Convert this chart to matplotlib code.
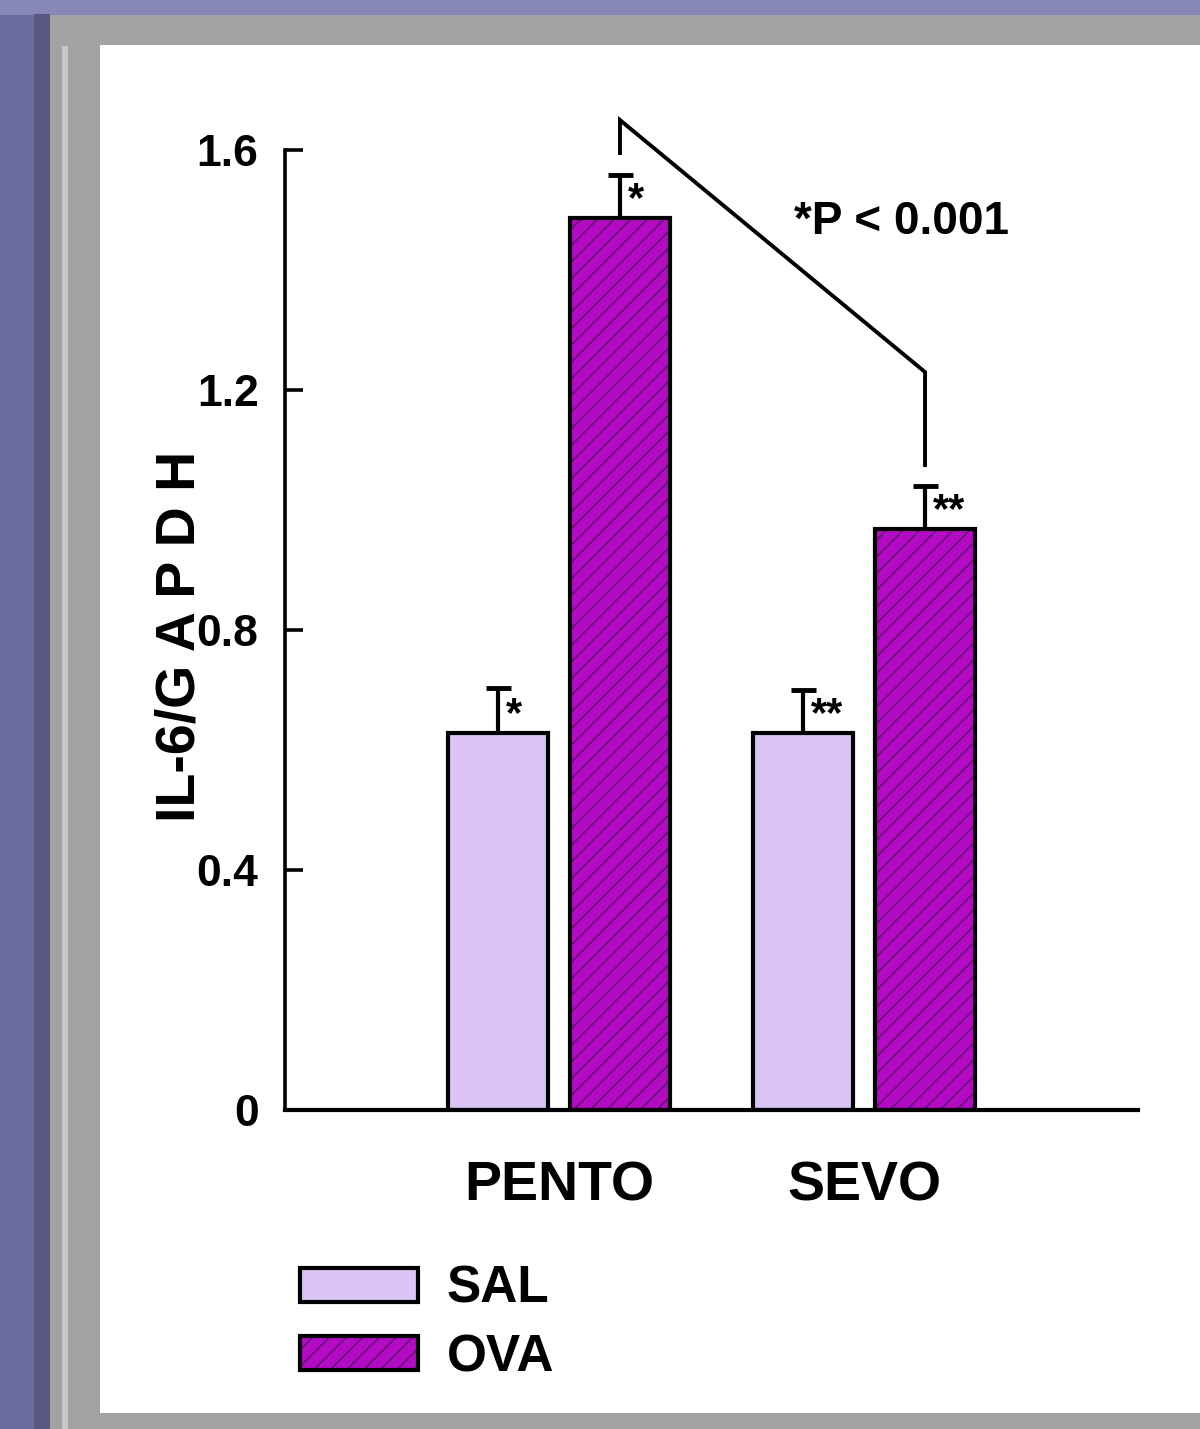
import matplotlib
matplotlib.use('Agg')
import matplotlib.pyplot as plt
from matplotlib.patches import Rectangle
from matplotlib.legend_handler import HandlerTuple
import numpy as np

# ---------------- data ----------------
categories = ['PENTO', 'SEVO']
series_names = ['SAL', 'OVA']
sal_means = [0.628, 0.628]
sal_err = [0.075, 0.072]
ova_means = [1.487, 0.968]
ova_err = [0.071, 0.072]
sal_marks = ['*', '**']
ova_marks = ['*', '**']
yticks = [0, 0.4, 0.8, 1.2, 1.6]
ytick_labels = ['0', '0.4', '0.8', '1.2', '1.6']
bracket_y = [1.595, 1.65, 1.23, 1.075]   # left bottom, left top, right top, right bottom
p_text = '*P < 0.001'
ylabel = 'IL-6/G A P D H'

# ---------------- style ----------------
FONT = 'Liberation Sans'
SAL_COLOR = '#DCC4F8'
OVA_COLOR = '#B30AC4'
HATCH_COLOR = '#66107A'
plt.rcParams['hatch.linewidth'] = 1.1

fig = plt.figure(figsize=(12, 14.29), dpi=100)
fig.patch.set_facecolor('#6C6CA2')

# decorative frame (figure fraction coordinates)
fig.patches.append(Rectangle((0, 0.9895), 1, 0.0105, transform=fig.transFigure,
                             facecolor='#8888B8', edgecolor='none', zorder=-5))
fig.patches.append(Rectangle((0.028, 0), 0.014, 0.99, transform=fig.transFigure,
                             facecolor='#58587F', edgecolor='none', zorder=-5))
fig.patches.append(Rectangle((0.042, 0), 0.958, 0.9895, transform=fig.transFigure,
                             facecolor='#A2A2A2', edgecolor='none', zorder=-4))
fig.patches.append(Rectangle((0.052, 0), 0.005, 0.968, transform=fig.transFigure,
                             facecolor='#C8C8C8', edgecolor='none', zorder=-3))
fig.patches.append(Rectangle((0.0833, 0.0112), 0.9167, 0.9573, transform=fig.transFigure,
                             facecolor='white', edgecolor='none', zorder=-2))

ax = fig.add_axes([0.2375, 0.2232, 0.7108, 0.6718])
ax.set_facecolor('none')

x = np.arange(len(categories))
off = 0.2
w = 0.325

# SAL bars
ax.bar(x - off, sal_means, w, color=SAL_COLOR, edgecolor='black', linewidth=3, zorder=3)
# OVA bars: hatched fill, then black outline
ax.bar(x + off, ova_means, w, color=OVA_COLOR, edgecolor=HATCH_COLOR, linewidth=0,
       hatch='//', zorder=3)
ax.bar(x + off, ova_means, w, fill=False, edgecolor='black', linewidth=3, zorder=4)

# error bars (upper only)
for xs, m, e in [(x - off, sal_means, sal_err), (x + off, ova_means, ova_err)]:
    ax.errorbar(xs, m, yerr=[np.zeros(len(e)), e], fmt='none', ecolor='black',
                elinewidth=3, capsize=9, capthick=3.5, zorder=2)

# significance marks
for xs, m, e, marks in [(x - off, sal_means, sal_err, sal_marks),
                        (x + off, ova_means, ova_err, ova_marks)]:
    for xi, mi, mk in zip(xs, m, marks):
        ax.text(xi + 0.026, mi + 0.03, mk, ha='left', va='center',
                fontsize=30, fontweight='bold', family=FONT, zorder=5)

# bracket
bx = [x[0] + off, x[0] + off, x[1] + off, x[1] + off]
ax.plot(bx, bracket_y, color='black', linewidth=2.8, clip_on=False, zorder=5,
        solid_joinstyle='miter')
ax.text(0.77, 1.48, p_text, ha='left', va='center', fontsize=33,
        fontweight='bold', family=FONT)

# axes styling
ax.set_xlim(-0.898, 1.898)
ax.set_ylim(0, 1.6)
for s in ['top', 'right']:
    ax.spines[s].set_visible(False)
ax.spines['left'].set_linewidth(2.6)
ax.spines['bottom'].set_linewidth(3.0)
ax.spines['left'].set_zorder(6)
ax.spines['bottom'].set_zorder(6)

ax.set_yticks(yticks)
ax.set_yticklabels(ytick_labels)
ax.tick_params(axis='y', direction='in', length=13, width=2.6, pad=19, labelsize=32)
ax.set_xticks(x)
ax.set_xticklabels(categories)
ax.tick_params(axis='x', length=0, pad=36, labelsize=40)
for lbl in ax.get_yticklabels() + ax.get_xticklabels():
    lbl.set_fontfamily(FONT)
    lbl.set_fontweight('bold')

ax.set_ylabel(ylabel, fontsize=40, family=FONT, fontweight='bold')
ax.yaxis.set_label_coords(-0.092, 0.493)

# legend
h_sal = Rectangle((0, 0), 1, 1, facecolor=SAL_COLOR, edgecolor='black', linewidth=3)
h_ova_fill = Rectangle((0, 0), 1, 1, facecolor=OVA_COLOR, edgecolor=HATCH_COLOR,
                       linewidth=0, hatch='//')
h_ova_edge = Rectangle((0, 0), 1, 1, fill=False, edgecolor='black', linewidth=3)
leg = fig.legend([h_sal, (h_ova_fill, h_ova_edge)], series_names,
                 handler_map={tuple: HandlerTuple(ndivide=1, pad=0)},
                 loc='upper left', bbox_to_anchor=(0.25, 0.115), frameon=False,
                 prop={'family': FONT, 'weight': 'bold', 'size': 37},
                 handlelength=2.3, handleheight=0.64, handletextpad=0.55,
                 labelspacing=0.38, borderpad=0, borderaxespad=0)

fig.savefig('out.png', dpi=100, facecolor=fig.get_facecolor())
